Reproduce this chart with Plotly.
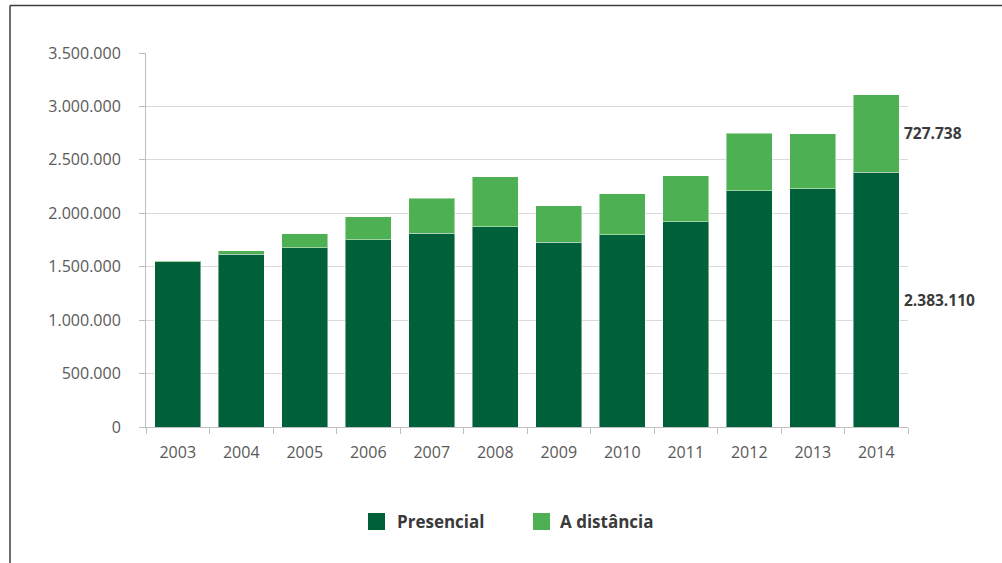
import plotly.graph_objects as go

# Ingressos no ensino superior por modalidade
anos = ["2003", "2004", "2005", "2006", "2007", "2008",
        "2009", "2010", "2011", "2012", "2013", "2014"]
presencial = [1545000, 1617000, 1679000, 1751000, 1813000, 1875000,
              1729000, 1800000, 1919000, 2209000, 2228000, 2383110]
a_distancia = [13000, 31000, 128000, 218000, 329000, 468000,
               340000, 384000, 431000, 540000, 515000, 727738]
y_ticks = [0, 500000, 1000000, 1500000, 2000000, 2500000, 3000000, 3500000]

COR_PRES = "#00603A"
COR_DIST = "#4DB153"
COR_TEXTO = "#595959"
COR_ROTULO = "#3A3A3A"
FONTE = "Open Sans"

W, H = 1002, 563
ML, MR, MT, MB = 146, 94, 53, 136
PW, PH = W - ML - MR, H - MT - MB


def px_x(px):
    return (px - ML) / PW


def px_y(py):
    return (H - MB - py) / PH


def fmt(v):
    return f"{v:,}".replace(",", ".")


fig = go.Figure()
fig.add_trace(go.Bar(
    x=anos, y=presencial, name="Presencial",
    marker=dict(color=COR_PRES, line=dict(color="rgba(255,255,255,0.45)", width=1)),
    hoverinfo="skip", showlegend=False,
))
fig.add_trace(go.Bar(
    x=anos, y=a_distancia, name="A distância",
    marker=dict(color=COR_DIST, line=dict(color="rgba(255,255,255,0.45)", width=1)),
    hoverinfo="skip", showlegend=False,
))

# value labels beside the last bar, centred on each segment
ultimo = len(anos) - 1  # category index of the last year
fig.add_annotation(x=ultimo, y=presencial[-1] / 2, text=f"<b>{fmt(presencial[-1])}</b>",
                   showarrow=False, xanchor="left", xshift=26,
                   font=dict(family=FONTE, size=15.5, color=COR_ROTULO))
fig.add_annotation(x=ultimo, y=presencial[-1] + a_distancia[-1] / 2,
                   text=f"<b>{fmt(a_distancia[-1])}</b>",
                   showarrow=False, xanchor="left", xshift=26,
                   font=dict(family=FONTE, size=15.5, color=COR_ROTULO))

# legend drawn as swatches + labels below the axis
legenda = [("Presencial", COR_PRES, 368, 395), ("A distância", COR_DIST, 533, 558)]
for nome, cor, sx, tx in legenda:
    fig.add_shape(type="rect", xref="paper", yref="paper",
                  x0=px_x(sx), x1=px_x(sx + 17), y0=px_y(530), y1=px_y(513),
                  fillcolor=cor, line=dict(width=0))
    fig.add_annotation(xref="paper", yref="paper", x=px_x(tx), y=px_y(521.5),
                       text=f"<b>{nome}</b>", showarrow=False,
                       xanchor="left", yanchor="middle",
                       font=dict(family=FONTE, size=17, color=COR_ROTULO))

# outer frame (top and left edges)
moldura = dict(color="#3C3C3C", width=1.5)
fig.add_shape(type="line", xref="paper", yref="paper",
              x0=px_x(10), x1=px_x(1003), y0=px_y(5.5), y1=px_y(5.5), line=moldura)
fig.add_shape(type="line", xref="paper", yref="paper",
              x0=px_x(10), x1=px_x(10), y0=px_y(5.5), y1=px_y(565), line=moldura)

fig.update_layout(
    barmode="stack",
    bargap=0.275,
    width=W, height=H,
    margin=dict(l=ML, r=MR, t=MT, b=MB, pad=0),
    paper_bgcolor="white",
    plot_bgcolor="white",
    separators=",.",
    font=dict(family=FONTE, color=COR_TEXTO),
)
fig.update_xaxes(
    type="category",
    range=[-0.5, len(anos) - 0.5],
    showline=True, linecolor="#BFBFBF", linewidth=1,
    ticks="outside", tickson="boundaries", ticklen=6, tickcolor="#BFBFBF",
    tickfont=dict(family=FONTE, size=16, color=COR_TEXTO),
    tickangle=0,
    ticklabelstandoff=11,
    showgrid=False,
)
fig.update_yaxes(
    range=[0, 3500000],
    tickvals=y_ticks, tickformat=",.0f",
    showline=True, linecolor="#BFBFBF", linewidth=1,
    ticks="outside", ticklen=6, tickcolor="#BFBFBF",
    tickfont=dict(family=FONTE, size=16, color=COR_TEXTO),
    ticklabelstandoff=15,
    showgrid=True, gridcolor="#D9D9D9", gridwidth=1,
    zeroline=False,
)

fig.write_html("out.html")
